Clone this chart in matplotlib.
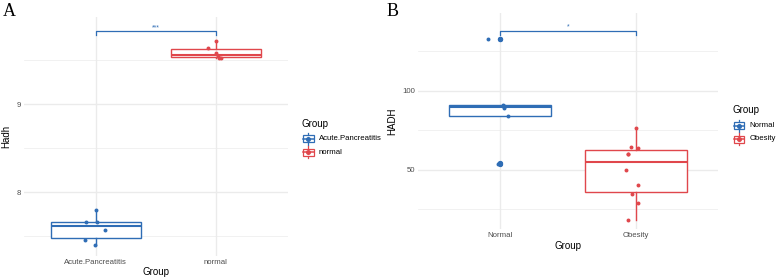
import matplotlib
matplotlib.use("Agg")
import matplotlib.pyplot as plt
import numpy as np
from matplotlib.patches import Rectangle

# ---------------- data ----------------
a_categories = ["Acute.Pancreatitis", "normal"]
a_acute = [7.80, 7.667, 7.665, 7.572, 7.458, 7.40]
a_normal = [9.716, 9.636, 9.58, 9.545, 9.53, 9.52]
a_ylabel = "Hadh"
a_sig = "***"

b_categories = ["Normal", "Obesity"]
b_normal = [132.5, 132.6, 90.9, 89.5, 84.2, 53.8, 53.9, 89.3, 90.2]
b_obesity = [76.6, 64.3, 63.5, 60.1, 49.6, 40.3, 34.8, 29.1, 18.4, 59.6]
b_ylabel = "HADH"
b_sig = "*"

# jitter offsets (horizontal, category units) -- style only
a_jit_acute = [0.0, -0.08, 0.01, 0.075, -0.09, -0.01]
a_jit_normal = [0.0, -0.06, 0.0, 0.02, 0.03, 0.04]
b_jit_normal = [-0.086, 0.0, 0.025, 0.03, 0.056, -0.017, -0.005, 0.03, 0.03]
b_jit_obesity = [0.0, -0.04, 0.017, -0.06, -0.07, 0.017, -0.03, 0.017, -0.06, -0.06]

BLUE = "#2F6DB5"
RED = "#E0474C"
GRID = "#EBEBEB"
TXT = "#4D4D4D"

W, H = 777, 278
plt.rcParams["font.family"] = ["Liberation Sans", "DejaVu Sans"]
fig = plt.figure(figsize=(W / 100, H / 100), dpi=100)


def px_axes(l, t, r, b):
    return fig.add_axes([l / W, 1 - b / H, (r - l) / W, (b - t) / H])


def draw_panel(ax, groups, jits, cats, ylim, majors, minors, ylabel, sig, brk_y, brk_tick):
    ax.set_xlim(0.4, 2.6)
    ax.set_ylim(*ylim)
    for s in ax.spines.values():
        s.set_visible(False)
    for m in minors:
        ax.axhline(m, color=GRID, lw=0.5, zorder=0)
    for m in majors:
        ax.axhline(m, color=GRID, lw=1.0, zorder=0)
    for x in (1, 2):
        ax.axvline(x, color=GRID, lw=1.0, zorder=0)
    cols = [BLUE, RED]
    for i, (vals, jit, c) in enumerate(zip(groups, jits, cols)):
        pos = i + 1
        ax.boxplot([vals], positions=[pos], widths=0.75, whis=1.5,
                   patch_artist=True, showcaps=False,
                   boxprops=dict(facecolor="white", edgecolor=c, lw=1.0),
                   medianprops=dict(color=c, lw=1.5),
                   whiskerprops=dict(color=c, lw=1.0),
                   flierprops=dict(marker="o", markerfacecolor=c, markeredgecolor=c,
                                   markersize=2.8),
                   zorder=2)
        ax.scatter(pos + np.array(jit), vals, s=8, color=c, zorder=3, linewidths=0)
    ax.set_xticks([1, 2])
    ax.set_xticklabels(cats)
    ax.set_yticks(majors)
    ax.tick_params(length=0, labelsize=5.6, labelcolor=TXT, pad=2)
    ax.set_xlabel("Group", fontsize=7, labelpad=1)
    ax.set_ylabel(ylabel, fontsize=7, labelpad=4)
    # significance bracket
    ax.plot([1, 1, 2, 2], [brk_tick, brk_y, brk_y, brk_tick], color=BLUE, lw=0.9,
            zorder=4, clip_on=False)
    ax.text(1.5, brk_y, sig, ha="center", va="bottom", fontsize=5, color=BLUE)


axA = px_axes(23.7, 17.0, 287.7, 256.0)
draw_panel(axA, [a_acute, a_normal], [a_jit_acute, a_jit_normal], a_categories,
           (7.277, 9.99), [8, 9], [7.5, 8.5, 9.5], a_ylabel, a_sig, 9.826, 9.78)

axB = px_axes(418.4, 13.2, 717.6, 229.4)
draw_panel(axB, [b_normal, b_obesity], [b_jit_normal, b_jit_obesity], b_categories,
           (12.2, 149.0), [50, 100], [25, 75, 125], b_ylabel, b_sig, 138.0, 135.2)


# ---------------- legends ----------------
lg = fig.add_axes([0, 0, 1, 1])
lg.set_xlim(0, W)
lg.set_ylim(H, 0)
lg.axis("off")


def legend(x, ytitle, ys, labels):
    lg.text(x - 1, ytitle, "Group", fontsize=7, va="center", ha="left", color="black")
    for y, lab, c in zip(ys, labels, [BLUE, RED]):
        x0, x1 = x, x + 10.5
        xc = (x0 + x1) / 2
        lg.add_patch(Rectangle((x0, y - 3.5), x1 - x0, 7, facecolor="white",
                               edgecolor=c, lw=0.9))
        lg.plot([xc, xc], [y - 6, y - 3.5], color=c, lw=0.9)
        lg.plot([xc, xc], [y + 3.5, y + 6], color=c, lw=0.9)
        lg.plot([x0, x1], [y, y], color=c, lw=1.1)
        lg.plot([xc], [y], "o", color=c, markersize=2.6)
        lg.text(x1 + 5.5, y, lab, fontsize=5.6, va="center", ha="left", color="black")


legend(303, 124, [138.5, 152], a_categories)
legend(733.5, 110, [125.5, 139], b_categories)

fig.text(3 / W, 1 - 11 / H, "A", fontsize=13, family="Liberation Serif", va="center", ha="left")
fig.text(387 / W, 1 - 11 / H, "B", fontsize=13, family="Liberation Serif", va="center", ha="left")

fig.savefig("out.png", dpi=100)
